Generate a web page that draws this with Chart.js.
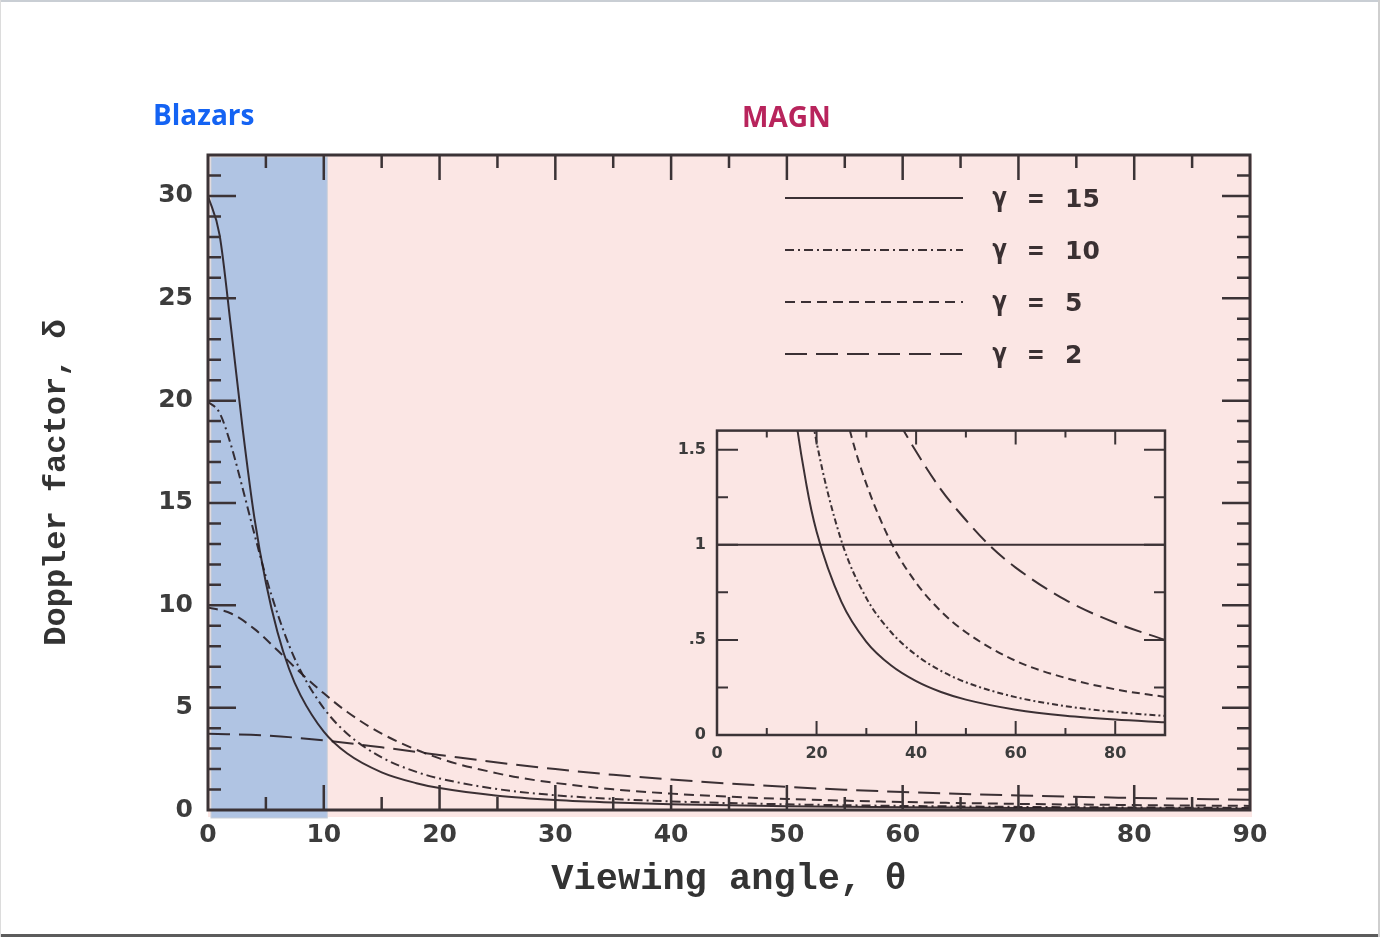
<!DOCTYPE html>
<html>
<head>
<meta charset="utf-8">
<script src="https://cdn.jsdelivr.net/npm/chart.js@4.4.1/dist/chart.umd.min.js"></script>
<style>
  html, body { margin: 0; padding: 0; background: #fff; }
  #page { position: relative; width: 1380px; height: 937px; overflow: hidden; background: #fff; }
  #main { position: absolute; left: 0; top: 0; }
  #inset { position: absolute; left: 640px; top: 410px; }
  .tag { position: absolute; font: bold 28px 'Open Sans', sans-serif; line-height: 28px; white-space: nowrap; }
  .edge { position: absolute; }
</style>
</head>
<body>
<div id="page">
  <canvas id="main" width="1380" height="937"></canvas>
  <canvas id="inset" width="560" height="370"></canvas>
  <div class="tag" style="left:153px; top:100px; color:#1463f3;">Blazars</div>
  <div class="tag" style="left:742px; top:102px; color:#b8245c;">MAGN</div>
  <div class="edge" style="left:0; top:0; width:1380px; height:2px; background:#c9ced4;"></div>
  <div class="edge" style="left:0; top:934px; width:1380px; height:3px; background:#5c5c5c;"></div>
  <div class="edge" style="left:1378px; top:0; width:2px; height:937px; background:#cfcfcf;"></div>
  <div class="edge" style="left:0; top:0; width:1px; height:937px; background:#dcdcdc;"></div>
</div>
<script>
// Doppler factor curves, one per bulk Lorentz factor
const gammaLabels = ['15', '10', '5', '2'];

const angles15 = [0, 1, 2, 3, 4, 5, 6, 7, 8, 10, 12, 15, 18, 20, 25, 30, 35, 40, 45, 50, 60, 70, 80, 90];
const delta15  = [30, 28.1, 23.5, 18.6, 14.3, 11.1, 8.7, 6.9, 5.6, 3.83, 2.77, 1.84, 1.31, 1.07, 0.70, 0.49, 0.365, 0.283, 0.226, 0.186, 0.133, 0.101, 0.081, 0.067];

const angles10 = [0, 1, 2, 3, 4, 5, 6, 7, 8, 10, 12, 15, 18, 20, 25, 30, 35, 40, 45, 50, 60, 70, 80, 90];
const delta10  = [19.95, 19.4, 17.8, 15.7, 13.5, 11.4, 9.6, 8.05, 6.8, 4.97, 3.74, 2.57, 1.86, 1.54, 1.02, 0.72, 0.54, 0.42, 0.337, 0.277, 0.199, 0.152, 0.121, 0.1];

const angles5 = [0, 2, 4, 6, 8, 10, 12, 15, 20, 25, 27, 30, 35, 40, 45, 50, 60, 70, 80, 90];
const delta5  = [9.9, 9.6, 8.85, 7.8, 6.7, 5.7, 4.8, 3.73, 2.52, 1.79, 1.57, 1.32, 1.01, 0.80, 0.65, 0.54, 0.39, 0.30, 0.24, 0.2];

const angles2 = [0, 5, 10, 15, 20, 25, 30, 35, 40, 45, 50, 55, 60, 70, 80, 90];
const delta2  = [3.73, 3.64, 3.40, 3.06, 2.69, 2.32, 2.0, 1.72, 1.49, 1.29, 1.13, 0.99, 0.88, 0.71, 0.59, 0.5];

// delta = 1 reference line in the zoomed panel
const unityAngles = [0, 90];
const unityDelta  = [1, 1];

// blazar viewing-angle band
const blazarRange = [0, 10.3];

// tick labels
const mainXTicks  = [0, 10, 20, 30, 40, 50, 60, 70, 80, 90];
const mainYTicks  = [0, 5, 10, 15, 20, 25, 30];
const insetXTicks = [0, 20, 40, 60, 80];
const insetYTicks = [0, 0.5, 1, 1.5];
const insetYLabels = ['0', '.5', '1', '1.5'];

const INK = 'rgba(38, 28, 32, 0.9)';
const dashes = {
  '15': [],
  '10': [9, 4, 2, 4],
  '5': [10, 6],
  '2': [22, 9],
};
const insetDashes = {
  '15': [],
  '10': [6, 3, 2, 3],
  '5': [8, 5],
  '2': [18, 8],
};

const series = [
  { g: gammaLabels[0], xs: angles15, ys: delta15 },
  { g: gammaLabels[1], xs: angles10, ys: delta10 },
  { g: gammaLabels[2], xs: angles5, ys: delta5 },
  { g: gammaLabels[3], xs: angles2, ys: delta2 },
];

function toPoints(xs, ys) {
  return xs.map((x, i) => ({ x, y: ys[i] }));
}

function buildDatasets(dashMap) {
  return series.map(s => ({
    label: s.g,
    data: toPoints(s.xs, s.ys),
    borderColor: INK,
    borderWidth: 2,
    borderDash: dashMap[s.g],
    pointRadius: 0,
    cubicInterpolationMode: 'monotone',
    fill: false,
  }));
}

// Pink plot background with the blue blazar band
const shading = {
  id: 'shading',
  beforeDraw(chart) {
    const { ctx, chartArea: a, scales: { x } } = chart;
    ctx.save();
    ctx.fillStyle = '#fbe6e4';
    ctx.fillRect(a.left, a.top, a.width + 2, a.height + 7);
    const x0 = x.getPixelForValue(blazarRange[0]);
    const x1 = x.getPixelForValue(blazarRange[1]);
    ctx.fillStyle = '#b0c4e3';
    ctx.fillRect(x0 + 3, a.top + 2, x1 - x0 - 3, a.height + 6);
    ctx.strokeStyle = '#c9cfd8';
    ctx.lineWidth = 1;
    ctx.strokeRect(x0 + 3, a.top + 2, x1 - x0 - 3, a.height + 6);
    ctx.restore();
  }
};

// Boxed frame with inward ticks on all four sides
const frameTicks = {
  id: 'frameTicks',
  afterDatasetsDraw(chart, args, o) {
    const { ctx, chartArea: a, scales: { x, y } } = chart;
    const isMajor = (v, m) => Math.abs(v / m - Math.round(v / m)) < 1e-6;
    ctx.save();
    ctx.strokeStyle = o.color;
    ctx.lineWidth = o.tickWidth;
    ctx.beginPath();
    for (let v = x.min + o.xStep; v < x.max - 1e-6; v += o.xStep) {
      const px = x.getPixelForValue(v);
      const len = isMajor(v, o.xMajor) ? o.xMajorLen : o.xMinorLen;
      ctx.moveTo(px, a.bottom); ctx.lineTo(px, a.bottom - len);
      ctx.moveTo(px, a.top); ctx.lineTo(px, a.top + len);
    }
    for (let v = y.min + o.yStep; v < y.max - 1e-6; v += o.yStep) {
      const py = y.getPixelForValue(v);
      const len = isMajor(v, o.yMajor) ? o.yMajorLen : o.yMinorLen;
      ctx.moveTo(a.left, py); ctx.lineTo(a.left + len, py);
      ctx.moveTo(a.right, py); ctx.lineTo(a.right - len, py);
    }
    ctx.stroke();
    ctx.lineWidth = o.frameWidth;
    ctx.strokeRect(a.left, a.top, a.width, a.height);
    ctx.restore();
  }
};

// Line-sample legend in the upper right of the main panel
const gammaLegend = {
  id: 'gammaLegend',
  afterDraw(chart) {
    const { ctx, chartArea: a } = chart;
    const x0 = a.left + 577, x1 = a.left + 755;
    const gx = a.left + 784, ex = a.left + 820, nx = a.left + 857;
    ctx.save();
    ctx.strokeStyle = INK;
    ctx.lineWidth = 2.2;
    ctx.fillStyle = '#3a3032';
    ctx.textBaseline = 'alphabetic';
    chart.data.datasets.forEach((ds, i) => {
      const yy = a.top + 43 + i * 52;
      ctx.setLineDash(ds.borderDash);
      ctx.beginPath();
      ctx.moveTo(x0, yy);
      ctx.lineTo(x1, yy);
      ctx.stroke();
      ctx.font = 'bold 26px "DejaVu Sans Mono", monospace';
      ctx.fillText('γ', gx, yy + 8);
      ctx.fillText('=', ex, yy + 9);
      ctx.font = 'bold 25px "DejaVu Sans", sans-serif';
      ctx.fillText(ds.label, nx, yy + 9);
    });
    ctx.restore();
  }
};

const tickFont = { family: '"DejaVu Sans", sans-serif', size: 25, weight: 'bold' };
const titleFamily = '"Liberation Mono", "Courier New", monospace';

new Chart(document.getElementById('main'), {
  type: 'line',
  data: { datasets: buildDatasets(dashes) },
  options: {
    responsive: false,
    animation: false,
    layout: { padding: { left: 0, top: 155, right: 130, bottom: 0 } },
    plugins: {
      legend: { display: false },
      tooltip: { enabled: false },
      frameTicks: {
        color: '#3b3336', tickWidth: 2.5, frameWidth: 3,
        xStep: 5, xMajor: 10, xMajorLen: 25, xMinorLen: 13,
        yStep: 1, yMajor: 5, yMajorLen: 28, yMinorLen: 13,
      },
    },
    scales: {
      x: {
        type: 'linear', min: 0, max: 90,
        grid: { display: false, drawTicks: false },
        border: { display: false },
        afterBuildTicks: s => { s.ticks = mainXTicks.map(v => ({ value: v })); },
        afterFit: s => { s.height = 127; },
        ticks: { font: tickFont, color: '#3c3c3c', padding: 10, maxRotation: 0 },
        title: {
          display: true, text: 'Viewing angle, θ', color: '#333',
          font: { family: titleFamily, size: 37, weight: 'bold' },
          padding: { top: 0, bottom: 35 },
        },
      },
      y: {
        type: 'linear', min: 0, max: 32,
        grid: { display: false, drawTicks: false },
        border: { display: false },
        afterBuildTicks: s => { s.ticks = mainYTicks.map(v => ({ value: v })); },
        afterFit: s => { s.width = 208; },
        ticks: { font: tickFont, color: '#3c3c3c', padding: 15 },
        title: {
          display: true, text: 'Doppler factor, δ', color: '#333',
          font: { family: titleFamily, size: 32, weight: 'bold' },
          padding: { top: 38, bottom: 0 },
        },
      },
    },
  },
  plugins: [shading, frameTicks, gammaLegend],
});

const insetSets = buildDatasets(insetDashes);
insetSets.push({
  label: 'unity',
  data: toPoints(unityAngles, unityDelta),
  borderColor: INK,
  borderWidth: 2,
  pointRadius: 0,
});

const insetFont = { family: '"DejaVu Sans", sans-serif', size: 16, weight: 'bold' };

new Chart(document.getElementById('inset'), {
  type: 'line',
  data: { datasets: insetSets },
  options: {
    responsive: false,
    animation: false,
    layout: { padding: { left: 0, top: 17, right: 35, bottom: 0 } },
    plugins: {
      legend: { display: false },
      tooltip: { enabled: false },
      frameTicks: {
        color: '#3b3336', tickWidth: 2, frameWidth: 2.5,
        xStep: 10, xMajor: 20, xMajorLen: 14, xMinorLen: 7,
        yStep: 0.25, yMajor: 0.5, yMajorLen: 21, yMinorLen: 11,
      },
    },
    scales: {
      x: {
        type: 'linear', min: 0, max: 90,
        grid: { display: false, drawTicks: false },
        border: { display: false },
        afterBuildTicks: s => { s.ticks = insetXTicks.map(v => ({ value: v })); },
        afterFit: s => { s.height = 45; },
        ticks: { font: insetFont, color: '#3c3c3c', padding: 9, maxRotation: 0 },
      },
      y: {
        type: 'linear', min: 0, max: 1.6,
        grid: { display: false, drawTicks: false },
        border: { display: false },
        afterBuildTicks: s => { s.ticks = insetYTicks.map(v => ({ value: v })); },
        afterFit: s => { s.width = 77; },
        ticks: {
          font: insetFont, color: '#3c3c3c', padding: 11,
          callback: (v, i) => insetYLabels[i],
        },
      },
    },
  },
  plugins: [frameTicks],
});
</script>
</body>
</html>
